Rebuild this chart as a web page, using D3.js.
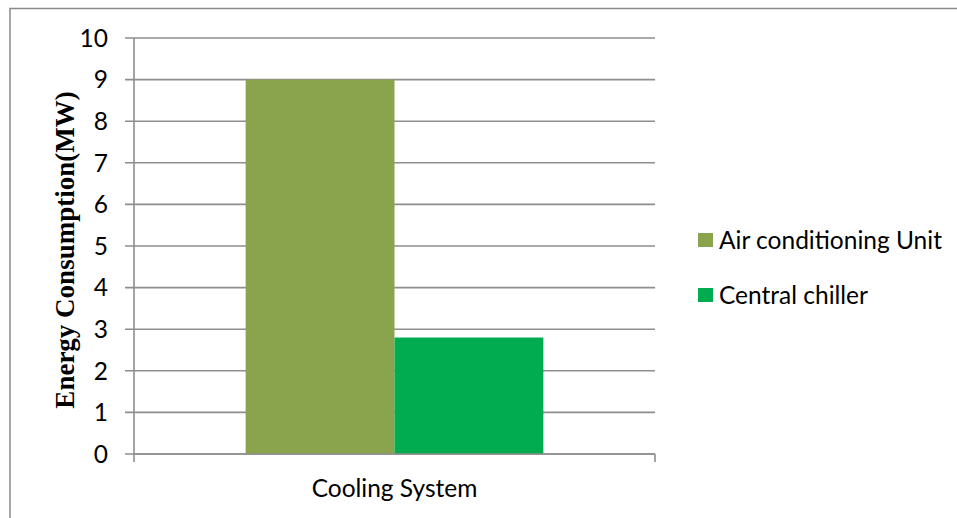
<!DOCTYPE html>
<html>
<head>
<meta charset="utf-8">
<script src="https://cdn.jsdelivr.net/npm/d3@7"></script>
<style>
  html, body { margin: 0; padding: 0; background: #fff; }
  svg { display: block; }
</style>
</head>
<body>
<svg id="chart" width="957" height="518"></svg>
<script>
// Energy consumption of two cooling systems (MW)
const categories = ["Cooling System"];
const seriesNames = ["Air conditioning Unit", "Central chiller"];
const seriesValues = [9.0, 2.8];
const seriesColors = ["#8aa44e", "#00ac4f"];
const yTicks = [0, 1, 2, 3, 4, 5, 6, 7, 8, 9, 10];
const yLabel = "Energy Consumption(MW)";

const svg = d3.select("#chart");
const sans = "Lato, 'Open Sans', 'Liberation Sans', sans-serif";
const fs = 24.5;
const gridColor = "#8e8e8e";

// outer frame
svg.append("rect")
  .attr("x", 10).attr("y", 8.5)
  .attr("width", 960).attr("height", 530)
  .attr("fill", "none").attr("stroke", "#8a8a8a").attr("stroke-width", 1.5);

const plot = { left: 134, right: 655, top: 38, bottom: 454 };

const y = d3.scaleLinear().domain([0, 10]).range([plot.bottom, plot.top]);
const x0 = d3.scaleBand().domain(categories).range([plot.left, plot.right]).paddingInner(0).paddingOuter(0);
// bars sit side by side with a 75% gap on either side of the pair
const x1 = d3.scaleBand().domain(seriesNames)
  .range([0, x0.bandwidth()]).paddingOuter(0.75).paddingInner(0);

// horizontal gridlines
svg.append("g").selectAll("line").data(yTicks).join("line")
  .attr("x1", plot.left - 9).attr("x2", plot.right)
  .attr("y1", d => y(d)).attr("y2", d => y(d))
  .attr("stroke", gridColor).attr("stroke-width", 1.6);

// y axis line
svg.append("line")
  .attr("x1", plot.left).attr("x2", plot.left)
  .attr("y1", plot.top).attr("y2", plot.bottom + 8)
  .attr("stroke", gridColor).attr("stroke-width", 1.6);
// right end tick of category axis
svg.append("line")
  .attr("x1", plot.right).attr("x2", plot.right)
  .attr("y1", plot.bottom).attr("y2", plot.bottom + 8)
  .attr("stroke", gridColor).attr("stroke-width", 1.6);

// y tick labels
svg.append("g").selectAll("text").data(yTicks).join("text")
  .attr("x", 108).attr("y", d => y(d))
  .attr("dy", "0.36em")
  .attr("text-anchor", "end")
  .attr("font-family", sans).attr("font-size", fs)
  .attr("fill", "#000")
  .text(d => d);

// bars
const groups = svg.append("g").selectAll("g").data(categories).join("g")
  .attr("transform", d => `translate(${x0(d)},0)`);
groups.selectAll("rect")
  .data(() => seriesNames.map((s, i) => ({ s, v: seriesValues[i], c: seriesColors[i] })))
  .join("rect")
  .attr("x", d => x1(d.s))
  .attr("width", x1.bandwidth())
  .attr("y", d => y(d.v))
  .attr("height", d => y(0) - y(d.v))
  .attr("fill", d => d.c);

// x axis baseline drawn over bars
svg.append("line")
  .attr("x1", plot.left).attr("x2", plot.right)
  .attr("y1", plot.bottom).attr("y2", plot.bottom)
  .attr("stroke", gridColor).attr("stroke-width", 1.6);

// category label
svg.append("g").selectAll("text").data(categories).join("text")
  .attr("x", d => x0(d) + x0.bandwidth() / 2)
  .attr("y", 497)
  .attr("text-anchor", "middle")
  .attr("font-family", sans).attr("font-size", fs)
  .attr("fill", "#000")
  .text(d => d);

// y axis title
svg.append("text")
  .attr("transform", "translate(74,250) rotate(-90)")
  .attr("text-anchor", "middle")
  .attr("font-family", "'Liberation Serif', 'Times New Roman', serif")
  .attr("font-weight", "bold")
  .attr("font-size", 27)
  .attr("fill", "#000")
  .text(yLabel);

// legend
const legend = svg.append("g").selectAll("g").data(seriesNames).join("g")
  .attr("transform", (d, i) => `translate(698,${233 + i * 55})`);
legend.append("rect")
  .attr("width", 15).attr("height", 14)
  .attr("fill", (d, i) => seriesColors[i]);
legend.append("text")
  .attr("x", 21).attr("y", 7)
  .attr("dy", "0.36em")
  .attr("font-family", sans).attr("font-size", fs)
  .attr("fill", "#000")
  .text(d => d);
</script>
</body>
</html>
